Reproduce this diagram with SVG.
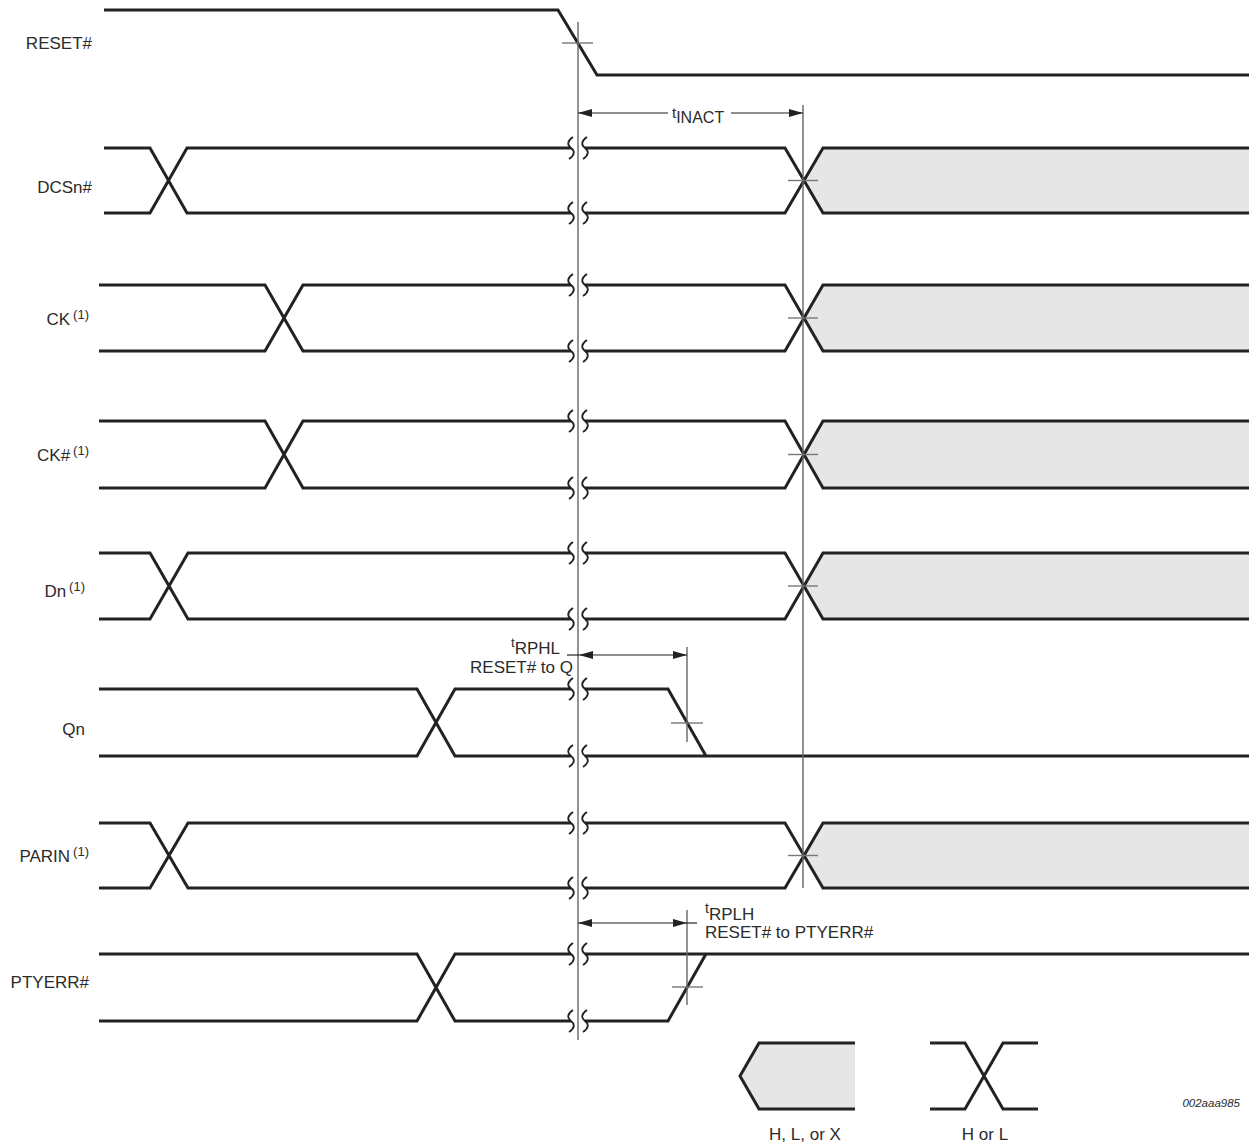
<svg xmlns="http://www.w3.org/2000/svg" width="1249" height="1146" viewBox="0 0 1249 1146">
<style>
text{font-family:"Liberation Sans",Arial,sans-serif;fill:#2b2b2b;}
.lbl{font-size:17px;text-anchor:end;}
.sup{font-size:13px;}
.sig{fill:none;stroke:#222;stroke-width:3;stroke-linejoin:miter;}
.brk{fill:none;stroke:#222;stroke-width:1.8;}
.shade{fill:#e6e6e6;stroke:none;}
.ref{stroke:#666;stroke-width:1.4;fill:none;}
.tick{stroke:#777;stroke-width:1.4;fill:none;}
.dim{stroke:#222;stroke-width:1.2;fill:none;}
.dlbl{font-size:17px;}
</style>
<defs>
<path id="sq" d="M2,-11 C-4,-7 -4,-3 0,0 C4,3 4,7 -2,11"/>
<marker id="ah" viewBox="0 0 14 8" refX="14" refY="4" markerWidth="14" markerHeight="8" markerUnits="userSpaceOnUse" orient="auto-start-reverse">
<path d="M0,0 L14,4 L0,8 Z" fill="#222"/>
</marker>
</defs>
<rect width="1249" height="1146" fill="#fff"/>

<g id="RESET">
<text class="lbl" x="92" y="49">RESET#</text>
<path class="sig" d="M104,10 H558 L597,75 H1249"/>
<line class="tick" x1="562" y1="43" x2="593" y2="43"/>
</g>

<g id="DCSn">
<text class="lbl" x="92" y="193">DCSn#</text>
<polygon class="shade" points="803,180.5 823,148 1249,148 1249,213 823,213"/>
<path class="sig" d="M104,148 H150 L187,213 H571 M104,213 H150 L187,148 H571 M585,148 H785 L823,213 H1249 M585,213 H785 L823,148 H1249"/>
<g class="brk"><use href="#sq" x="571" y="148"/><use href="#sq" x="585" y="148"/><use href="#sq" x="571" y="213"/><use href="#sq" x="585" y="213"/></g>
<line class="tick" x1="788" y1="180.5" x2="818" y2="180.5"/>
</g>

<g id="CK">
<text class="lbl" x="89" y="325">CK<tspan class="sup" dx="3" dy="-6">(1)</tspan></text>
<polygon class="shade" points="803,318 823,285 1249,285 1249,351 823,351"/>
<path class="sig" d="M99,285 H265 L303,351 H571 M99,351 H265 L303,285 H571 M585,285 H785 L823,351 H1249 M585,351 H785 L823,285 H1249"/>
<g class="brk"><use href="#sq" x="571" y="285"/><use href="#sq" x="585" y="285"/><use href="#sq" x="571" y="351"/><use href="#sq" x="585" y="351"/></g>
<line class="tick" x1="788" y1="318" x2="818" y2="318"/>
</g>

<g id="CKn">
<text class="lbl" x="89" y="461">CK#<tspan class="sup" dx="3" dy="-6">(1)</tspan></text>
<polygon class="shade" points="803,454.5 823,421 1249,421 1249,488 823,488"/>
<path class="sig" d="M99,421 H265 L303,488 H571 M99,488 H265 L303,421 H571 M585,421 H785 L823,488 H1249 M585,488 H785 L823,421 H1249"/>
<g class="brk"><use href="#sq" x="571" y="421"/><use href="#sq" x="585" y="421"/><use href="#sq" x="571" y="488"/><use href="#sq" x="585" y="488"/></g>
<line class="tick" x1="788" y1="454.5" x2="818" y2="454.5"/>
</g>

<g id="Dn">
<text class="lbl" x="85" y="597">Dn<tspan class="sup" dx="3" dy="-6">(1)</tspan></text>
<polygon class="shade" points="803,586 823,553 1249,553 1249,619 823,619"/>
<path class="sig" d="M99,553 H150 L188,619 H571 M99,619 H150 L188,553 H571 M585,553 H785 L823,619 H1249 M585,619 H785 L823,553 H1249"/>
<g class="brk"><use href="#sq" x="571" y="553"/><use href="#sq" x="585" y="553"/><use href="#sq" x="571" y="619"/><use href="#sq" x="585" y="619"/></g>
<line class="tick" x1="788" y1="586" x2="818" y2="586"/>
</g>

<g id="Qn">
<text class="lbl" x="85" y="735">Qn</text>
<path class="sig" d="M99,689 H417 L455,756 H571 M99,756 H417 L455,689 H571 M585,689 H668 L706,756 M585,756 H1249"/>
<g class="brk"><use href="#sq" x="571" y="689"/><use href="#sq" x="585" y="689"/><use href="#sq" x="571" y="756"/><use href="#sq" x="585" y="756"/></g>
<line class="tick" x1="671" y1="723" x2="703" y2="723"/>
</g>

<g id="PARIN">
<text class="lbl" x="89" y="862">PARIN<tspan class="sup" dx="3" dy="-6">(1)</tspan></text>
<polygon class="shade" points="803,855.5 823,823 1249,823 1249,888 823,888"/>
<path class="sig" d="M99,823 H150 L188,888 H571 M99,888 H150 L188,823 H571 M585,823 H785 L823,888 H1249 M585,888 H785 L823,823 H1249"/>
<g class="brk"><use href="#sq" x="571" y="823"/><use href="#sq" x="585" y="823"/><use href="#sq" x="571" y="888"/><use href="#sq" x="585" y="888"/></g>
<line class="tick" x1="788" y1="855.5" x2="818" y2="855.5"/>
</g>

<g id="PTYERR">
<text class="lbl" x="89" y="988">PTYERR#</text>
<path class="sig" d="M99,954 H417 L455,1021 H571 M99,1021 H417 L455,954 H571 M585,954 H1249 M585,1021 H668 L706,954"/>
<g class="brk"><use href="#sq" x="571" y="954"/><use href="#sq" x="585" y="954"/><use href="#sq" x="571" y="1021"/><use href="#sq" x="585" y="1021"/></g>
<line class="tick" x1="672" y1="987" x2="703" y2="987"/>
</g>

<g id="connectors">
<line class="ref" x1="578" y1="22" x2="578" y2="1040"/>
<line class="ref" x1="803" y1="105" x2="803" y2="888"/>
<line class="ref" x1="687" y1="647" x2="687" y2="742"/>
<line class="ref" x1="687" y1="910" x2="687" y2="1005"/>
<line class="dim" x1="578" y1="113" x2="668" y2="113" marker-start="url(#ah)"/>
<line class="dim" x1="731" y1="113" x2="803" y2="113" marker-end="url(#ah)"/>
<text class="dlbl" x="672" y="118" style="font-size:15px">t<tspan dy="5" style="font-size:16px">INACT</tspan></text>
<line class="dim" x1="567" y1="655" x2="579" y2="655"/>
<line class="dim" x1="579" y1="655" x2="687" y2="655" marker-start="url(#ah)" marker-end="url(#ah)"/>
<text class="dlbl" x="511" y="647" style="font-size:13px">t<tspan dy="7" style="font-size:17px">RPHL</tspan></text>
<text class="dlbl" x="573" y="673" text-anchor="end">RESET# to Q</text>
<line class="dim" x1="578" y1="923" x2="687" y2="923" marker-start="url(#ah)" marker-end="url(#ah)"/>
<line class="dim" x1="687" y1="923" x2="697" y2="923"/>
<text class="dlbl" x="705" y="913" style="font-size:14px">t<tspan dy="7" style="font-size:17px">RPLH</tspan></text>
<text class="dlbl" x="705" y="938">RESET# to PTYERR#</text>
</g>

<g id="legend-hlx">
<polygon class="shade" points="740,1076 759,1043 855,1043 855,1109 759,1109"/>
<path class="sig" d="M855,1043 H759 L740,1076 L759,1109 H855"/>
<text x="805" y="1140" style="font-size:17px" text-anchor="middle">H, L, or X</text>
</g>

<g id="legend-hl">
<path class="sig" d="M930,1043 H965 L1003,1109 H1038 M930,1109 H965 L1003,1043 H1038"/>
<text x="985" y="1140" style="font-size:17px" text-anchor="middle">H or L</text>
</g>

<text x="1240" y="1107" text-anchor="end" style="font-size:11.5px;font-style:italic">002aaa985</text>
</svg>
